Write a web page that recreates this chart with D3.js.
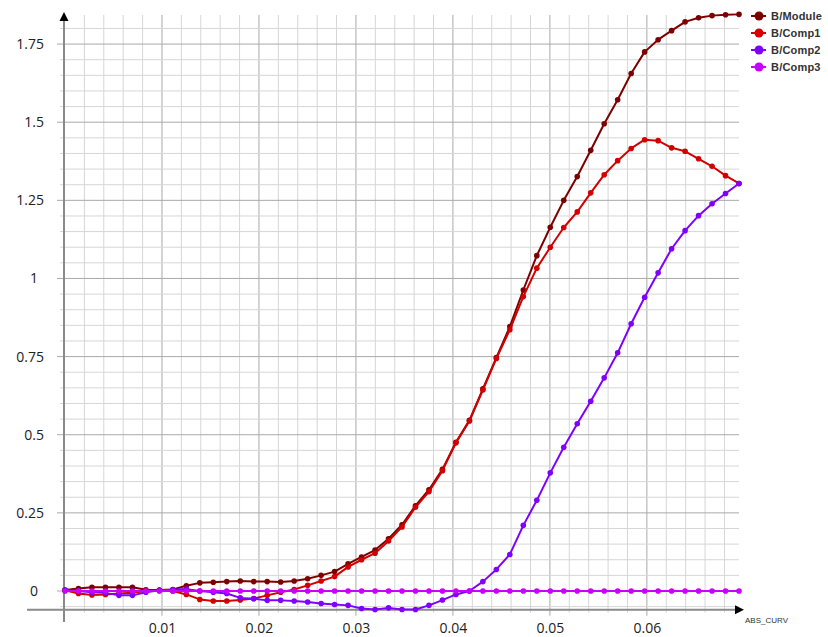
<!DOCTYPE html>
<html>
<head>
<meta charset="utf-8">
<script src="https://cdn.jsdelivr.net/npm/d3@7"></script>
<style>
  html, body { margin: 0; padding: 0; background: #ffffff; }
  svg { display: block; }
</style>
</head>
<body>
<svg id="chart" width="828" height="637"></svg>
<script>
// ---------------- data ----------------
const absCurv = [0, 0.00139, 0.00278, 0.00417, 0.00556, 0.00695, 0.00834, 0.00973, 0.01112, 0.01251,
  0.0139, 0.01529, 0.01668, 0.01807, 0.01946, 0.02085, 0.02224, 0.02363, 0.02502, 0.02641,
  0.0278, 0.02919, 0.03058, 0.03197, 0.03336, 0.03475, 0.03614, 0.03753, 0.03892, 0.04031,
  0.0417, 0.04309, 0.04448, 0.04587, 0.04726, 0.04865, 0.05004, 0.05143, 0.05282, 0.05421,
  0.0556, 0.05699, 0.05838, 0.05977, 0.06116, 0.06255, 0.06394, 0.06533, 0.06672, 0.06811, 0.0695];

const bModule = [0.003, 0.008, 0.012, 0.012, 0.012, 0.012, 0.004, 0.003, 0.005, 0.017,
  0.026, 0.028, 0.030, 0.032, 0.030, 0.030, 0.029, 0.032, 0.039, 0.050,
  0.062, 0.087, 0.109, 0.131, 0.167, 0.212, 0.273, 0.324, 0.389, 0.476,
  0.546, 0.647, 0.747, 0.846, 0.963, 1.073, 1.164, 1.250, 1.326, 1.410,
  1.495, 1.572, 1.656, 1.725, 1.764, 1.793, 1.821, 1.834, 1.841, 1.844, 1.845];

const bComp1 = [0.002, -0.008, -0.013, -0.011, -0.008, -0.006, 0.000, 0.002, 0.000, -0.011,
  -0.027, -0.032, -0.032, -0.029, -0.024, -0.014, -0.004, 0.005, 0.018, 0.032,
  0.046, 0.077, 0.100, 0.121, 0.160, 0.205, 0.268, 0.318, 0.385, 0.474,
  0.544, 0.643, 0.744, 0.836, 0.942, 1.033, 1.100, 1.163, 1.213, 1.274,
  1.332, 1.377, 1.416, 1.444, 1.441, 1.418, 1.407, 1.383, 1.359, 1.329, 1.304];

const bComp2 = [0.002, 0.000, -0.004, -0.006, -0.014, -0.014, -0.004, 0.002, 0.004, 0.006,
  0.000, -0.004, -0.008, -0.022, -0.025, -0.030, -0.030, -0.032, -0.035, -0.040,
  -0.043, -0.046, -0.056, -0.059, -0.054, -0.059, -0.059, -0.046, -0.029, -0.011,
  0.000, 0.030, 0.069, 0.117, 0.210, 0.290, 0.378, 0.460, 0.535, 0.607,
  0.682, 0.762, 0.855, 0.940, 1.018, 1.095, 1.153, 1.201, 1.239, 1.272, 1.304];

const bComp3 = [0, 0, 0, 0, 0, 0, 0, 0, 0, 0,
  0, 0, 0, 0, 0, 0, 0, 0, 0, 0,
  0, 0, 0, 0, 0, 0, 0, 0, 0, 0,
  0, 0, 0, 0, 0, 0, 0, 0, 0, 0,
  0, 0, 0, 0, 0, 0, 0, 0, 0, 0, 0];

const seriesNames = ["B/Module", "B/Comp1", "B/Comp2", "B/Comp3"];
const seriesValues = [bModule, bComp1, bComp2, bComp3];
const seriesColors = ["#7d0000", "#d20000", "#7f00ff", "#c800ff"];

const xTickValues = [0.01, 0.02, 0.03, 0.04, 0.05, 0.06];
const xTickLabels = ["0.01", "0.02", "0.03", "0.04", "0.05", "0.06"];
const yTickValues = [0, 0.25, 0.5, 0.75, 1, 1.25, 1.5, 1.75];
const yTickLabels = ["0", "0.25", "0.5", "0.75", "1", "1.25", "1.5", "1.75"];
const xAxisTitle = "ABS_CURV";

// ---------------- layout ----------------
(function draw() {
const svg = d3.select("#chart");
const pLeft = 65, pRight = 739, pTop = 15, pBottom = 609.75;

const x = d3.scaleLinear().domain([0, 0.0695]).range([pLeft, pRight]);
const y = d3.scaleLinear().domain([-0.06, 1.843]).range([pBottom, pTop]);

const gridG = svg.append("g");

// vertical grid lines (minor every 0.002, major every 0.01)
const xMinor = d3.range(1, 35).map(k => k * 0.002);
xMinor.forEach(v => {
  const isMajor = Math.abs(v / 0.01 - Math.round(v / 0.01)) < 1e-6;
  gridG.append("line")
    .attr("x1", x(v)).attr("x2", x(v))
    .attr("y1", pTop).attr("y2", pBottom + (isMajor ? 6 : 3))
    .attr("stroke", isMajor ? "#a9a9a9" : "#d6d6d6")
    .attr("stroke-width", 1);
});

// horizontal grid lines (minor every 0.05, major every 0.25)
const yMinor = d3.range(-1, 37).map(k => k * 0.05);
yMinor.forEach(v => {
  const isMajor = Math.abs(v / 0.25 - Math.round(v / 0.25)) < 1e-6;
  gridG.append("line")
    .attr("x1", isMajor ? pLeft - 8 : pLeft - 5).attr("x2", pRight)
    .attr("y1", y(v)).attr("y2", y(v))
    .attr("stroke", isMajor ? "#a9a9a9" : "#d6d6d6")
    .attr("stroke-width", 1);
});

// axes lines
svg.append("line")
  .attr("x1", pLeft - 1).attr("x2", pLeft - 1)
  .attr("y1", 622).attr("y2", 20)
  .attr("stroke", "#8a8a8a").attr("stroke-width", 2);
svg.append("path")
  .attr("d", `M${pLeft - 1},12 L${pLeft - 5.5},21 L${pLeft + 3.5},21 Z`)
  .attr("fill", "#000");

svg.append("line")
  .attr("x1", 27).attr("x2", 736)
  .attr("y1", pBottom).attr("y2", pBottom)
  .attr("stroke", "#8a8a8a").attr("stroke-width", 2);
svg.append("path")
  .attr("d", `M744,${pBottom} L735,${pBottom - 4.5} L735,${pBottom + 4.5} Z`)
  .attr("fill", "#000");

// axis tick labels via d3 axes (lines hidden)
const yAxis = d3.axisLeft(y).tickValues(yTickValues)
  .tickFormat((d, i) => yTickLabels[i]).tickSize(0).tickPadding(0);
const yAxisG = svg.append("g").attr("transform", "translate(44,0)").call(yAxis);
yAxisG.select(".domain").remove();
yAxisG.selectAll("text")
  .attr("font-family", "'Open Sans', 'Noto Sans', sans-serif")
  .attr("font-size", 14).attr("fill", "#222")
  .attr("dx", (d, i) => yTickLabels[i].length === 1 ? -6 : 0);

const xAxis = d3.axisBottom(x).tickValues(xTickValues)
  .tickFormat((d, i) => xTickLabels[i]).tickSize(0).tickPadding(0);
const xAxisG = svg.append("g").attr("transform", "translate(0,623)").call(xAxis);
xAxisG.select(".domain").remove();
xAxisG.selectAll("text")
  .attr("font-family", "'Open Sans', 'Noto Sans', sans-serif")
  .attr("font-size", 14).attr("fill", "#222");

svg.append("text")
  .attr("x", 745).attr("y", 623)
  .attr("font-family", "'Liberation Sans', Arial, sans-serif")
  .attr("font-size", 8).attr("fill", "#333")
  .text(xAxisTitle);

// ---------------- series ----------------
const line = d3.line().x(d => x(d[0])).y(d => y(d[1]));
seriesValues.forEach((vals, s) => {
  const pts = absCurv.map((xv, i) => [xv, vals[i]]);
  const g = svg.append("g");
  g.append("path").datum(pts)
    .attr("d", line)
    .attr("fill", "none")
    .attr("stroke", seriesColors[s])
    .attr("stroke-width", 2)
    .attr("stroke-linejoin", "round");
  g.selectAll("circle").data(pts).enter().append("circle")
    .attr("cx", d => x(d[0])).attr("cy", d => y(d[1]))
    .attr("r", 2.8)
    .attr("fill", seriesColors[s]);
});

// ---------------- legend ----------------
const legend = svg.append("g");
seriesNames.forEach((name, s) => {
  const ly = 16 + s * 17;
  legend.append("line")
    .attr("x1", 751).attr("x2", 766).attr("y1", ly).attr("y2", ly)
    .attr("stroke", seriesColors[s]).attr("stroke-width", 2);
  legend.append("circle")
    .attr("cx", 759).attr("cy", ly).attr("r", 4.5)
    .attr("fill", seriesColors[s]);
  legend.append("text")
    .attr("x", 771).attr("y", ly + 4)
    .attr("font-family", "'Liberation Sans', Arial, sans-serif")
    .attr("font-size", 11).attr("font-weight", "bold")
    .attr("letter-spacing", 0.2).attr("fill", "#333")
    .text(name);
});
})();
</script>
</body>
</html>
